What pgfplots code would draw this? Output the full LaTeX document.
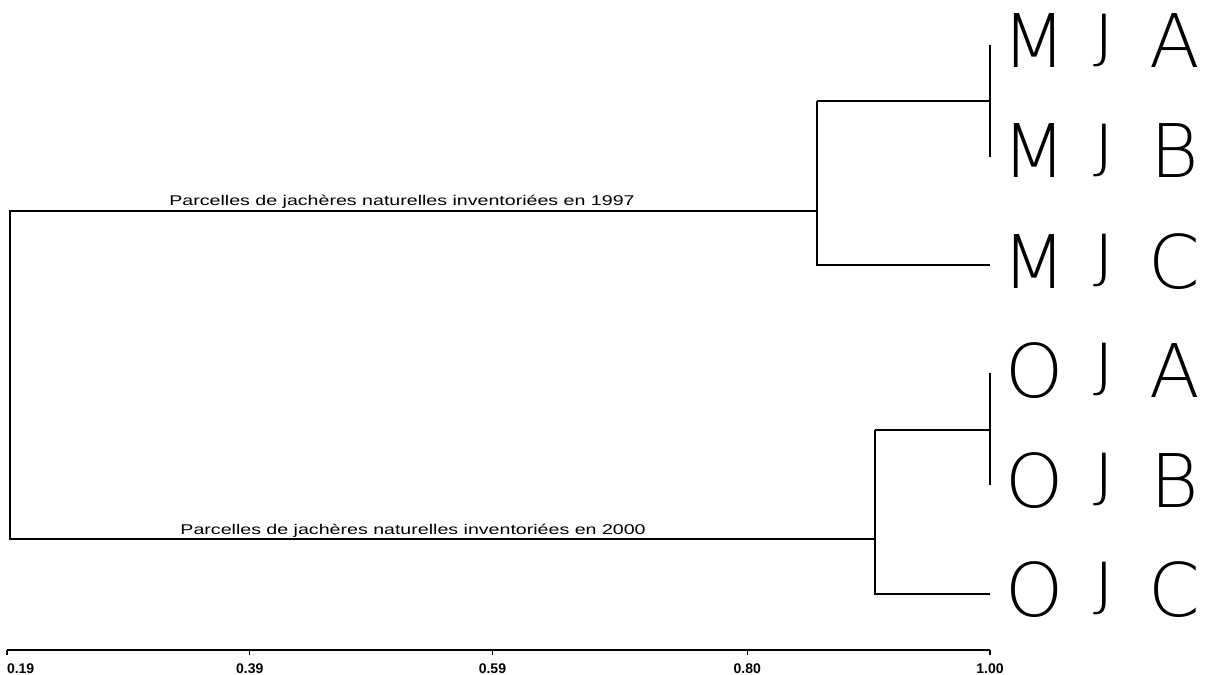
\documentclass[border=0pt]{standalone}
\usepackage{pgfplots}
\pgfplotsset{compat=1.18}
\usepackage{fontspec}
\setmainfont{Liberation Sans}
\newfontfamily\leaffont{DejaVu Sans ExtraLight}
\newcommand\leafJ{\raisebox{0.157em}{\scalebox{1}[0.785]{J}}}
\newcommand\leaf[3]{{\leaffont\fontsize{37}{40}\selectfont\makebox[35pt][c]{#1}\makebox[35pt][c]{#2}\makebox[35pt][c]{#3}}}
\newcommand\annot[1]{\scalebox{1}[0.72]{\fontsize{9.8}{12}\selectfont #1}}
\begin{document}
\begin{tikzpicture}
\begin{axis}[
  scale only axis, width=491.5pt, height=325pt,
  xmin=0.19, xmax=1.00, ymin=24, ymax=674,
  axis x line=bottom, axis y line=none,
  axis line style={-, line width=0.7pt},
  xtick={0.19,0.39,0.59,0.80,1.00},
  xticklabels={\makebox[0pt][l]{0.19},0.39,0.59,0.80,1.00},
  tick align=outside, major tick length=2.5pt,
  tick style={line width=0.7pt, black},
  xticklabel style={font=\bfseries\fontsize{7}{8}\selectfont, yshift=-1pt},
  clip=false,
]
% MJ cluster
\addplot[black, line width=0.7pt] coordinates {(1.00,629) (1.00,517)};
\addplot[black, line width=0.7pt] coordinates {(0.8574,573) (1.00,573)};
\addplot[black, line width=0.7pt] coordinates {(1.00,409) (0.8574,409) (0.8574,573)};
% OJ cluster
\addplot[black, line width=0.7pt] coordinates {(1.00,301) (1.00,189)};
\addplot[black, line width=0.7pt] coordinates {(0.9052,244) (1.00,244)};
\addplot[black, line width=0.7pt] coordinates {(1.00,80) (0.9052,80) (0.9052,244)};
% root
\addplot[black, line width=0.7pt] coordinates {(0.8574,463) (0.1925,463) (0.1925,135) (0.9052,135)};
% annotations
\node[anchor=base west, inner sep=0pt] at (axis cs:0.3235,468) {\annot{Parcelles de jachères naturelles inventoriées en 1997}};
\node[anchor=base west, inner sep=0pt] at (axis cs:0.3326,140) {\annot{Parcelles de jachères naturelles inventoriées en 2000}};
% leaf labels
\node[anchor=base west, inner sep=0pt] at (axis cs:1.0074,606) {\leaf{M}{\leafJ}{A}};
\node[anchor=base west, inner sep=0pt] at (axis cs:1.0074,496) {\leaf{M}{\leafJ}{B}};
\node[anchor=base west, inner sep=0pt] at (axis cs:1.0074,386) {\leaf{M}{\leafJ}{C}};
\node[anchor=base west, inner sep=0pt] at (axis cs:1.0074,277) {\leaf{O}{\leafJ}{A}};
\node[anchor=base west, inner sep=0pt] at (axis cs:1.0074,167) {\leaf{O}{\leafJ}{B}};
\node[anchor=base west, inner sep=0pt] at (axis cs:1.0074,58) {\leaf{O}{\leafJ}{C}};
\coordinate (bl) at (axis cs:0.18423,0);
\coordinate (tr) at (axis cs:1.18209,674);
\end{axis}
\pgfresetboundingbox
\path[use as bounding box] (bl) rectangle (tr);
\end{tikzpicture}
\end{document}
